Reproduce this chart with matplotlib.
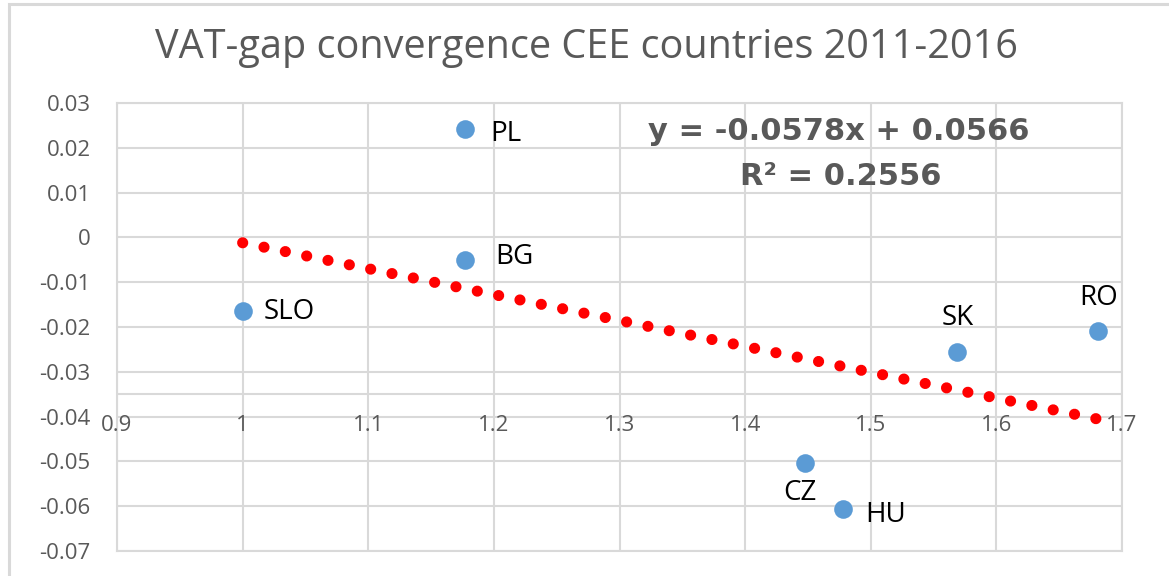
import matplotlib
matplotlib.use("Agg")
import matplotlib.pyplot as plt
from matplotlib.patches import Rectangle
import numpy as np

# data
countries = ["PL", "BG", "SLO", "SK", "RO", "CZ", "HU"]
x_vals = [1.177, 1.177, 1.000, 1.569, 1.681, 1.448, 1.478]
y_vals = [0.0242, -0.0050, -0.0164, -0.0256, -0.0209, -0.0504, -0.0606]

# linear trend shown on the chart
slope = -0.0578
intercept = 0.0566
r_squared = 0.2556

x_ticks = [0.9, 1, 1.1, 1.2, 1.3, 1.4, 1.5, 1.6, 1.7]
y_ticks = [0.03, 0.02, 0.01, 0, -0.01, -0.02, -0.03, -0.04, -0.05, -0.06, -0.07]
x_cross = -0.035  # where the horizontal axis line sits

# label offsets in pixels (dx, dy, ha)
label_pos = {
    "PL": (25, -5, "left"),
    "BG": (30, 3, "left"),
    "SLO": (21, -1, "left"),
    "SK": (0, 34, "center"),
    "RO": (0, 33, "center"),
    "CZ": (-5, -30, "center"),
    "HU": (22, -6, "left"),
}

grey = "#595959"
grid_col = "#D9D9D9"

fig = plt.figure(figsize=(11.69, 5.76), dpi=100)
ax = fig.add_axes([117 / 1169, 1 - 551 / 576, (1122 - 117) / 1169, (551 - 103) / 576])

# outer chart border
fig.patches.append(Rectangle((9 / 1169, -0.1), 1.2, 1.1 - 4 / 576, transform=fig.transFigure,
                             fill=False, edgecolor=grid_col, linewidth=2.2))

ax.set_xlim(0.9, 1.7)
ax.set_ylim(-0.07, 0.03)
ax.set_xticks(x_ticks)
ax.set_yticks(y_ticks)
ax.set_yticklabels([f"{v:g}" for v in y_ticks], fontfamily="Open Sans", fontsize=16, color=grey)
ax.tick_params(axis="x", length=0, labelbottom=False)
ax.tick_params(axis="y", length=0, pad=19)
ax.grid(True, color=grid_col, linewidth=1.5)
ax.set_axisbelow(True)
for s in ax.spines.values():
    s.set_color(grid_col)
    s.set_linewidth(1.5)

# horizontal axis crossing inside the plot
ax.axhline(x_cross, color=grid_col, linewidth=1.5, zorder=1)
for v in x_ticks:
    ax.annotate(f"{v:g}", (v, x_cross), xytext=(0, -31), textcoords="offset pixels",
                ha="center", va="center", fontsize=16, fontfamily="Open Sans", color=grey,
                annotation_clip=False, zorder=5)

# trend line
xt = np.array([min(x_vals), max(x_vals)])
ax.plot(xt, slope * xt + intercept, color="#FF0000", linewidth=8,
        linestyle=(0, (0.01, 1.95)), dash_capstyle="round", zorder=3)

ax.scatter(x_vals, y_vals, s=180, color="#5B9BD5", zorder=4, linewidths=0)

for c, xv, yv in zip(countries, x_vals, y_vals):
    dx, dy, ha = label_pos[c]
    ax.annotate(c, (xv, yv), xytext=(dx, dy), textcoords="offset pixels",
                ha=ha, va="center", fontsize=20, fontfamily="Open Sans", color="black", zorder=5)

ax.text(0.718, 0.937, f"y = {slope}x + {intercept}", transform=ax.transAxes, ha="center", va="center",
        fontsize=22, fontweight="bold", color=grey, fontfamily="DejaVu Sans")
ax.text(0.72, 0.837, f"R\u00b2 = {r_squared}", transform=ax.transAxes, ha="center", va="center",
        fontsize=22, fontweight="bold", color=grey, fontfamily="DejaVu Sans")

fig.text(586 / 1169, 1 - 48 / 576, "VAT-gap convergence CEE countries 2011-2016", ha="center", va="center",
         fontsize=28.5, color=grey, fontfamily="Open Sans")

fig.savefig("out.png", dpi=100)
